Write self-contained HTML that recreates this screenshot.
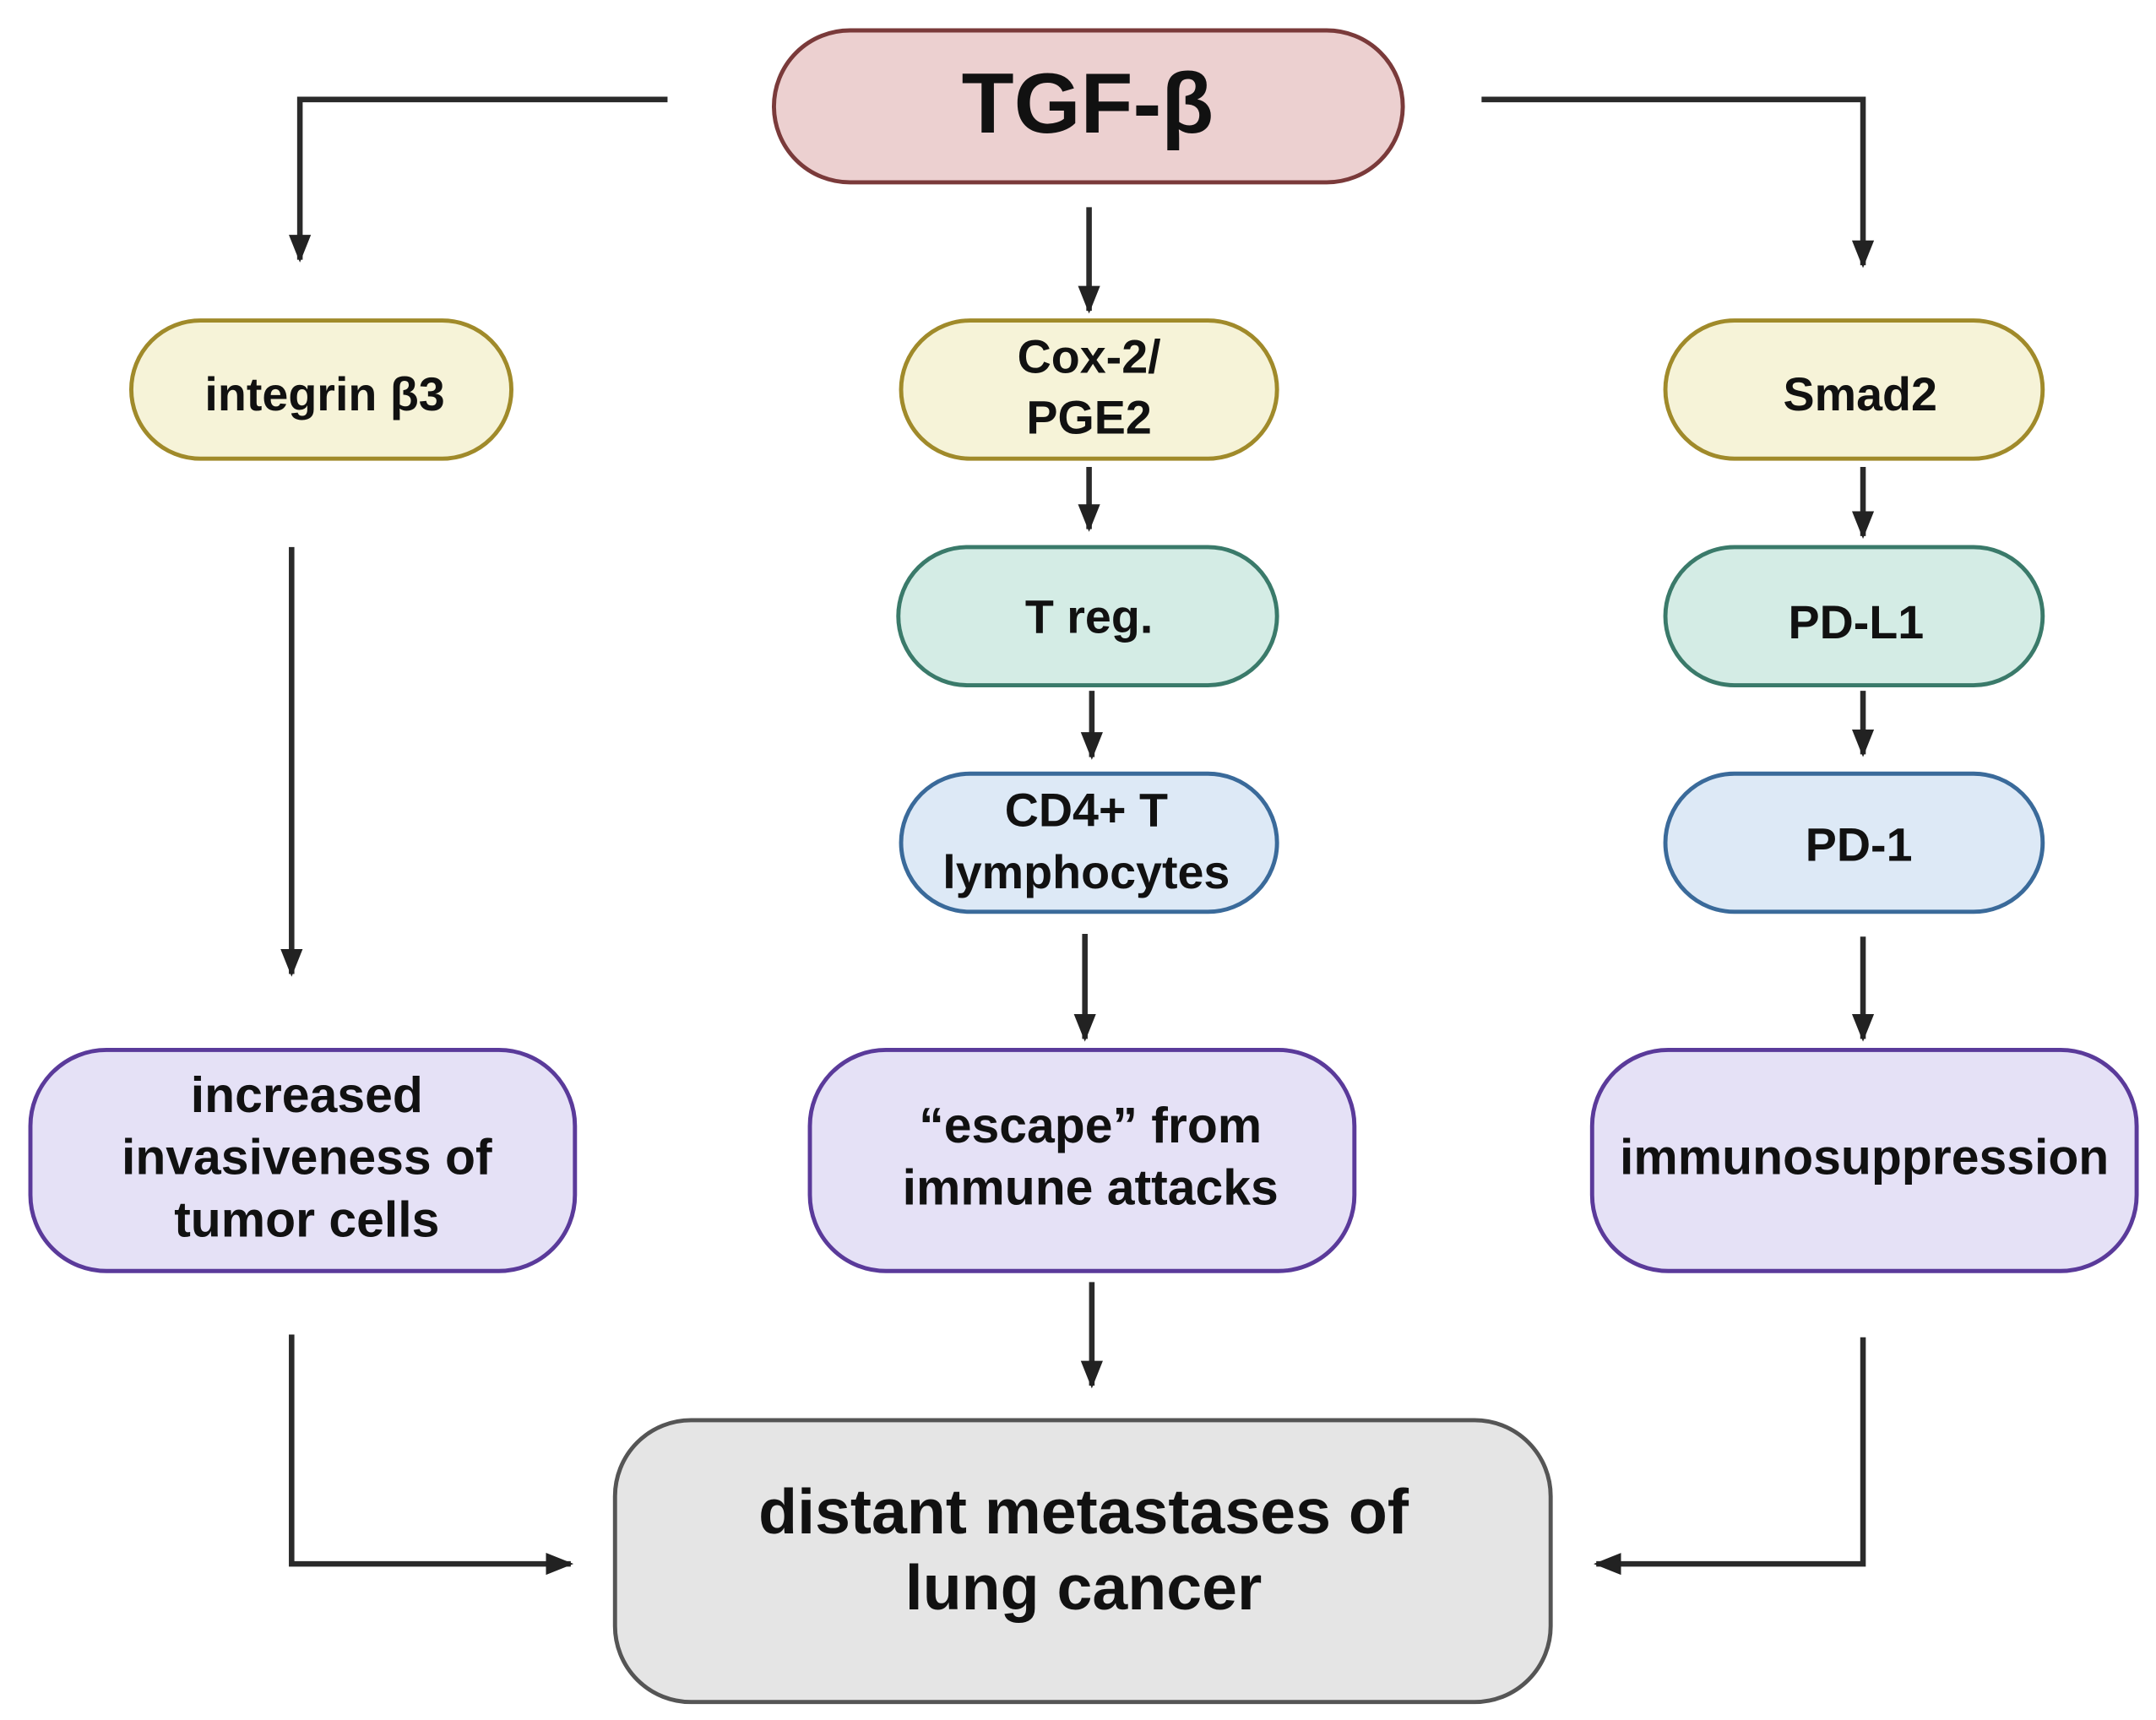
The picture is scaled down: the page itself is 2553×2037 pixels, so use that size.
<!DOCTYPE html>
<html><head><meta charset="utf-8"><style>
html,body{margin:0;padding:0;background:#fff;}
svg{display:block;}
text{font-family:"Liberation Sans",Arial,sans-serif;font-weight:bold;fill:#111;text-anchor:middle;}
</style></head><body>
<svg width="2553" height="2037" viewBox="0 0 1560 1245" preserveAspectRatio="none" xmlns="http://www.w3.org/2000/svg">
<defs><marker id="a" markerWidth="8" markerHeight="8" refX="7" refY="4" orient="auto" markerUnits="userSpaceOnUse" viewBox="0 0 8 8"><path d="M0,0 L8,4 L0,8 z" fill="#222"/></marker>
<marker id="b" markerWidth="20" markerHeight="20" refX="18" refY="10" orient="auto" markerUnits="userSpaceOnUse"><path d="M0,2 L20,10 L0,18 z" fill="#222"/></marker></defs>
<g fill="none" stroke="#2a2a2a" stroke-width="4">
<path d="M483,72 H217 V188" marker-end="url(#b)"/>
<path d="M1072,72 H1348 V192" marker-end="url(#b)"/>
<path d="M788,150 V225" marker-end="url(#b)"/>
<path d="M788,338 V383" marker-end="url(#b)"/>
<path d="M1348,338 V388" marker-end="url(#b)"/>
<path d="M790,500 V548" marker-end="url(#b)"/>
<path d="M1348,500 V546" marker-end="url(#b)"/>
<path d="M211,396 V705" marker-end="url(#b)"/>
<path d="M785,676 V752" marker-end="url(#b)"/>
<path d="M1348,678 V752" marker-end="url(#b)"/>
<path d="M790,928 V1003" marker-end="url(#b)"/>
<path d="M211,966 V1132 H413" marker-end="url(#b)"/>
<path d="M1348,968 V1132 H1155" marker-end="url(#b)"/>
</g>
<g stroke-width="3">
<rect x="560" y="22" width="455" height="110" rx="55" fill="#ecd0d0" stroke="#7a3a3a"/>
<rect x="95" y="232" width="275" height="100" rx="50" fill="#f6f3d8" stroke="#a08a2a"/>
<rect x="652" y="232" width="272" height="100" rx="50" fill="#f6f3d8" stroke="#a08a2a"/>
<rect x="1205" y="232" width="273" height="100" rx="50" fill="#f6f3d8" stroke="#a08a2a"/>
<rect x="650" y="396" width="274" height="100" rx="50" fill="#d4ece5" stroke="#3a7a6a"/>
<rect x="1205" y="396" width="273" height="100" rx="50" fill="#d4ece5" stroke="#3a7a6a"/>
<rect x="652" y="560" width="272" height="100" rx="50" fill="#dde9f6" stroke="#3a6a9a"/>
<rect x="1205" y="560" width="273" height="100" rx="50" fill="#dde9f6" stroke="#3a6a9a"/>
<rect x="22" y="760" width="394" height="160" rx="55" fill="#e5e1f6" stroke="#5a3a9a"/>
<rect x="586" y="760" width="394" height="160" rx="55" fill="#e5e1f6" stroke="#5a3a9a"/>
<rect x="1152" y="760" width="394" height="160" rx="55" fill="#e5e1f6" stroke="#5a3a9a"/>
<rect x="445" y="1028" width="677" height="204" rx="55" fill="#e5e5e5" stroke="#555"/>
</g>
<text x="787" y="96" font-size="62">TGF-β</text>
<text x="235" y="297" font-size="34">integrin β3</text>
<text x="788" y="270" font-size="34">Cox-2/</text>
<text x="788" y="314" font-size="34">PGE2</text>
<text x="1346" y="297" font-size="34">Smad2</text>
<text x="788" y="458" font-size="34">T reg.</text>
<text x="1343" y="462" font-size="34">PD-L1</text>
<text x="786" y="598" font-size="34">CD4+ T</text>
<text x="786" y="643" font-size="34">lymphocytes</text>
<text x="1345" y="623" font-size="34">PD-1</text>
<text x="222" y="805" font-size="36">increased</text>
<text x="222" y="850" font-size="36">invasiveness of</text>
<text x="222" y="895" font-size="36">tumor cells</text>
<text x="789" y="827" font-size="36">“escape” from</text>
<text x="789" y="872" font-size="36">immune attacks</text>
<text x="1349" y="850" font-size="36">immunosuppression</text>
<text x="784" y="1110" font-size="46">distant metastases of</text>
<text x="784" y="1165" font-size="46">lung cancer</text>
</svg>
</body></html>
